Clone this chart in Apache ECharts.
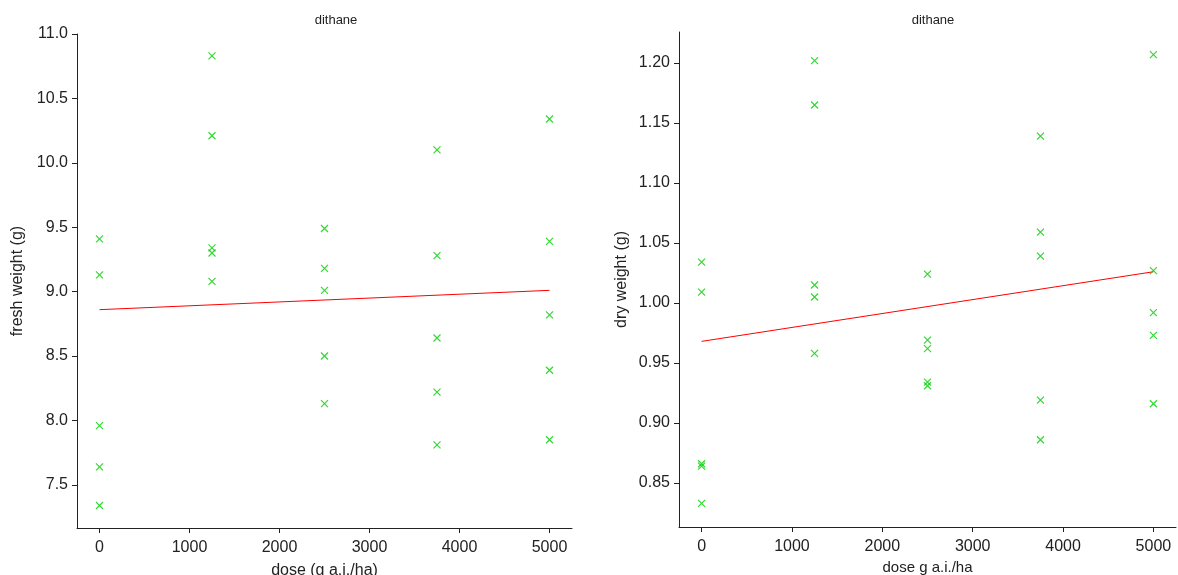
<!DOCTYPE html>
<html>
<head>
<meta charset="utf-8">
<title>dithane</title>
<script src="https://cdn.jsdelivr.net/npm/echarts@6/dist/echarts.min.js"></script>
<style>
  html, body { margin: 0; padding: 0; background: #fff; }
  #chart { width: 1178px; height: 575px; }
</style>
</head>
<body>
<div id="chart"></div>
<script>
// dose levels (g a.i./ha), 5 replicates each
var doses = [0, 1250, 2500, 3750, 5000];

// fresh weight (g) per dose
var freshWeight = [
  [9.41, 9.13, 7.96, 7.64, 7.34],
  [10.83, 10.21, 9.34, 9.30, 9.08],
  [9.49, 9.18, 9.01, 8.50, 8.13],
  [10.10, 9.28, 8.64, 8.22, 7.81],
  [10.34, 9.39, 8.82, 8.39, 7.85]
];

// dry weight (g) per dose
var dryWeight = [
  [1.034, 1.009, 0.866, 0.864, 0.833],
  [1.202, 1.165, 1.015, 1.005, 0.958],
  [1.024, 0.969, 0.962, 0.934, 0.931],
  [1.139, 1.059, 1.039, 0.919, 0.886],
  [1.207, 1.027, 0.992, 0.973, 0.916]
];

// fitted lines: [dose, weight]
var freshFit = [[0, 8.86], [5000, 9.01]];
var dryFit = [[0, 0.968], [5000, 1.026]];

var xTicks = [0, 1000, 2000, 3000, 4000, 5000];
var freshTicks = [7.5, 8.0, 8.5, 9.0, 9.5, 10.0, 10.5, 11.0];
var dryTicks = [0.85, 0.90, 0.95, 1.00, 1.05, 1.10, 1.15, 1.20];

function toPoints(groups) {
  var pts = [];
  groups.forEach(function (vals, i) {
    vals.forEach(function (v) { pts.push([doses[i], v]); });
  });
  return pts;
}

var font = "'Liberation Sans', Arial, sans-serif";
var axisCol = "#222";
var crossPath = "path://M0,0L10,10M10,0L0,10";

function xAxisOpt(idx, name, gap, nameSize) {
  return {
    gridIndex: idx,
    type: "value",
    min: -250,
    max: 5250,
    name: name,
    nameLocation: "middle",
    nameGap: gap,
    nameTextStyle: { color: axisCol, fontSize: nameSize, fontFamily: font },
    axisLine: { show: true, onZero: false, lineStyle: { color: axisCol, width: 1 } },
    axisTick: { show: true, length: 5, customValues: xTicks, lineStyle: { color: axisCol } },
    axisLabel: {
      customValues: xTicks,
      color: axisCol,
      fontSize: 16,
      fontFamily: font,
      margin: 12,
      formatter: function (v) { return String(v); }
    },
    splitLine: { show: false }
  };
}

function yAxisOpt(idx, name, gap, min, max, ticks, digits) {
  return {
    gridIndex: idx,
    type: "value",
    min: min,
    max: max,
    name: name,
    nameLocation: "middle",
    nameGap: gap,
    nameTextStyle: { color: axisCol, fontSize: 16, fontFamily: font },
    axisLine: { show: true, onZero: false, lineStyle: { color: axisCol, width: 1 } },
    axisTick: { show: true, length: 5, customValues: ticks, lineStyle: { color: axisCol } },
    axisLabel: {
      customValues: ticks,
      color: axisCol,
      fontSize: 16,
      fontFamily: font,
      margin: 9,
      formatter: function (v) { return v.toFixed(digits); }
    },
    splitLine: { show: false }
  };
}

function scatterOpt(idx, data) {
  return {
    type: "scatter",
    xAxisIndex: idx,
    yAxisIndex: idx,
    data: data,
    symbol: crossPath,
    symbolSize: 7,
    itemStyle: { color: "transparent", borderColor: "#00cd00", borderWidth: 1.2 },
    silent: true
  };
}

function fitOpt(idx, data) {
  return {
    type: "line",
    xAxisIndex: idx,
    yAxisIndex: idx,
    data: data,
    showSymbol: false,
    lineStyle: { color: "#ff0000", width: 1 },
    z: 1,
    silent: true
  };
}

var myChart = echarts.init(document.getElementById("chart"));
var option = {
  backgroundColor: "#fff",
  animation: false,
  title: [
    { text: "dithane", left: 331, top: 9, textAlign: "center",
      textStyle: { fontSize: 13, fontWeight: "normal", color: axisCol, fontFamily: font } },
    { text: "dithane", left: 928, top: 9, textAlign: "center",
      textStyle: { fontSize: 13, fontWeight: "normal", color: axisCol, fontFamily: font } }
  ],
  grid: [
    { left: 77, right: 606, top: 34, bottom: 47, outerBoundsMode: "none", containLabel: false },
    { left: 679, right: 2, top: 32, bottom: 48, outerBoundsMode: "none", containLabel: false }
  ],
  xAxis: [
    xAxisOpt(0, "dose (g a.i./ha)", 35, 16),
    xAxisOpt(1, "dose g a.i./ha", 33, 15)
  ],
  yAxis: [
    yAxisOpt(0, "fresh weight (g)", 51, 7.165, 11.0, freshTicks, 1),
    yAxisOpt(1, "dry weight (g)", 49, 0.8133, 1.2258, dryTicks, 2)
  ],
  series: [
    scatterOpt(0, toPoints(freshWeight)),
    fitOpt(0, freshFit),
    scatterOpt(1, toPoints(dryWeight)),
    fitOpt(1, dryFit)
  ]
};

option && myChart.setOption(option);
</script>
</body>
</html>
